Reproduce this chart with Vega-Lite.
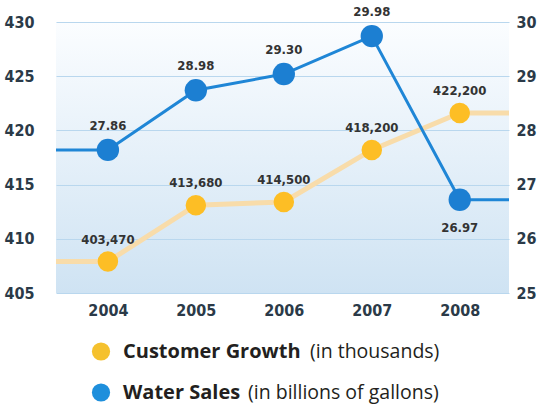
{
  "$schema": "https://vega.github.io/schema/vega-lite/v6.json",
  "padding": {"left": 3, "top": 6, "right": 0, "bottom": 0},
  "background": "white",
  "spacing": 13,
  "datasets": {
    "customers": [
      {"year": 2003.41, "value": 407.9, "label": null},
      {"year": 2004, "value": 407.9, "label": "403,470"},
      {"year": 2005, "value": 413.1, "label": "413,680"},
      {"year": 2006, "value": 413.4, "label": "414,500"},
      {"year": 2007, "value": 418.2, "label": "418,200"},
      {"year": 2008, "value": 421.6, "label": "422,200"},
      {"year": 2008.56, "value": 421.6, "label": null}
    ],
    "water": [
      {"year": 2003.41, "value": 27.64, "label": null},
      {"year": 2004, "value": 27.64, "label": "27.86"},
      {"year": 2005, "value": 28.74, "label": "28.98"},
      {"year": 2006, "value": 29.04, "label": "29.30"},
      {"year": 2007, "value": 29.74, "label": "29.98"},
      {"year": 2008, "value": 26.72, "label": "26.97"},
      {"year": 2008.56, "value": 26.72, "label": null}
    ],
    "legend": [
      {"series": "Customer Growth", "unit": "(in thousands)"},
      {"series": "Water Sales", "unit": "(in billions of gallons)"}
    ]
  },
  "config": {
    "view": {"stroke": null},
    "axis": {
      "labelFont": "DejaVu Sans Condensed",
      "labelFontWeight": "bold",
      "labelFontSize": 16,
      "labelColor": "#2b3a48",
      "domain": false,
      "ticks": false,
      "title": null
    }
  },
  "vconcat": [
    {
      "width": 453,
      "height": 271,
      "view": {
        "stroke": null,
        "fill": {
          "gradient": "linear",
          "x1": 0, "y1": 0, "x2": 0, "y2": 1,
          "stops": [
            {"offset": 0, "color": "#fbfdff"},
            {"offset": 1, "color": "#cfe3f3"}
          ]
        }
      },
      "encoding": {
        "x": {
          "field": "year",
          "type": "quantitative",
          "scale": {"domain": [2003.41, 2008.56], "nice": false, "zero": false},
          "axis": {"values": [2004, 2005, 2006, 2007, 2008], "format": "d", "grid": false, "labelPadding": 9, "labelFlush": false}
        }
      },
      "layer": [
        {
          "data": {"name": "customers"},
          "encoding": {
            "y": {
              "field": "value",
              "type": "quantitative",
              "scale": {"domain": [405, 430], "nice": false, "zero": false},
              "axis": {"values": [405, 410, 415, 420, 425, 430], "grid": true, "gridColor": "#b9d7ee", "gridWidth": 1.2, "labelPadding": 22, "orient": "left"}
            }
          },
          "layer": [
            {"mark": {"type": "line", "color": "#f8dcaa", "strokeWidth": 5}},
            {"transform": [{"filter": "datum.label != null"}], "mark": {"type": "circle", "size": 420, "color": "#fdbe25", "opacity": 1}},
            {"transform": [{"filter": "datum.label != null"}], "mark": {"type": "text", "dy": -22, "font": "DejaVu Sans Condensed", "fontWeight": "bold", "fontSize": 13, "color": "#333333"}, "encoding": {"text": {"field": "label"}}}
          ]
        },
        {
          "data": {"name": "water"},
          "encoding": {
            "y": {
              "field": "value",
              "type": "quantitative",
              "scale": {"domain": [25, 30], "nice": false, "zero": false},
              "axis": {"values": [25, 26, 27, 28, 29, 30], "grid": false, "labelPadding": 7, "orient": "right"}
            }
          },
          "layer": [
            {"mark": {"type": "line", "color": "#1f86d6", "strokeWidth": 3}},
            {"transform": [{"filter": "datum.label != null"}], "mark": {"type": "circle", "size": 500, "color": "#1c7fd2", "opacity": 1}},
            {"transform": [{"filter": "datum.label != null && datum.year != 2008"}], "mark": {"type": "text", "dy": -24, "font": "DejaVu Sans Condensed", "fontWeight": "bold", "fontSize": 13, "color": "#333333"}, "encoding": {"text": {"field": "label"}}},
            {"transform": [{"filter": "datum.year == 2008"}], "mark": {"type": "text", "dy": 28, "font": "DejaVu Sans Condensed", "fontWeight": "bold", "fontSize": 13, "color": "#333333"}, "encoding": {"text": {"field": "label"}}}
          ]
        }
      ],
      "resolve": {"scale": {"y": "independent"}}
    },
    {
      "data": {"name": "legend"},
      "width": 90,
      "height": 82,
      "encoding": {
        "y": {"field": "series", "type": "nominal", "scale": {"domain": ["Customer Growth", "Water Sales"]}, "axis": null}
      },
      "layer": [
        {
          "mark": {"type": "circle", "size": 330, "opacity": 1},
          "encoding": {
            "color": {"field": "series", "type": "nominal", "scale": {"domain": ["Customer Growth", "Water Sales"], "range": ["#f5c12e", "#1e8fdc"]}, "legend": null}
          }
        },
        {
          "mark": {"type": "text", "align": "left", "dx": 22, "font": "Open Sans", "fontWeight": "bold", "fontSize": 20, "color": "#231f20"},
          "encoding": {"text": {"field": "series"}}
        },
        {
          "mark": {"type": "text", "align": "left", "dx": {"expr": "datum.series == 'Customer Growth' ? 209 : 147"}, "font": "Open Sans", "fontWeight": "normal", "fontSize": 19.5, "color": "#231f20"},
          "encoding": {"text": {"field": "unit"}}
        }
      ]
    }
  ]
}
